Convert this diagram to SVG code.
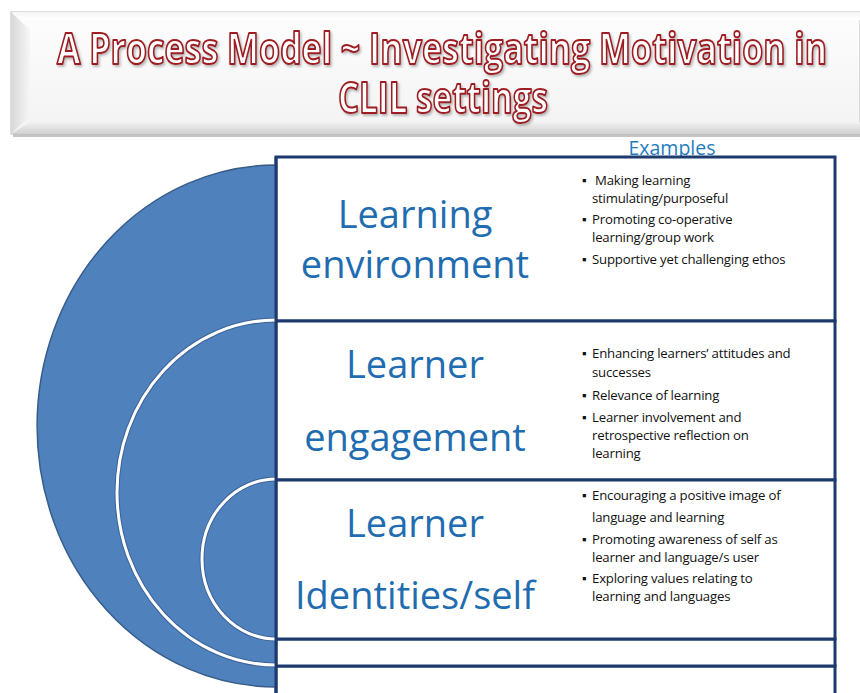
<svg xmlns="http://www.w3.org/2000/svg" width="860" height="693" viewBox="0 0 860 693">
<defs>
<linearGradient id="bevelTop" x1="0" y1="0" x2="0" y2="1">
<stop offset="0" stop-color="#f4f4f4"/><stop offset="1" stop-color="#ffffff"/>
</linearGradient>
<linearGradient id="bevelLeft" x1="0" y1="0" x2="1" y2="0">
<stop offset="0" stop-color="#d8d8d8"/><stop offset="1" stop-color="#f6f6f6"/>
</linearGradient>
<linearGradient id="bevelBottom" x1="0" y1="0" x2="0" y2="1">
<stop offset="0" stop-color="#f2f2f2"/><stop offset="1" stop-color="#d0d0d0"/>
</linearGradient>
<linearGradient id="face" x1="0" y1="0" x2="0" y2="1">
<stop offset="0" stop-color="#fdfdfd"/><stop offset="1" stop-color="#f3f3f3"/>
</linearGradient>
<filter id="tshadow" x="-5%" y="-30%" width="110%" height="160%">
<feDropShadow dx="1.5" dy="2" stdDeviation="1" flood-color="#777777" flood-opacity="0.5"/>
</filter>
</defs>
<style>
.title{font-family:"Open Sans","Noto Sans",sans-serif;font-weight:bold;font-size:43px;fill:#ffffff;stroke:#9e1b20;stroke-width:2px;stroke-linejoin:round;filter:url(#tshadow)}
.label{font-family:"Open Sans","Noto Sans",sans-serif;font-size:38px;fill:#1f6db0}
.ex{font-family:"Open Sans","Noto Sans",sans-serif;font-size:19.5px;fill:#1f7cc0}
.item{font-family:"Open Sans","Noto Sans",sans-serif;font-size:13.2px;fill:#111111;letter-spacing:-0.2px}
.frame{fill:#ffffff;stroke:#1d3a6e;stroke-width:3}
.ring{fill:none;stroke:#ffffff;stroke-width:3}
.ringedge{fill:none;stroke:#3a6299;stroke-width:5}
</style>

<g id="title">
<rect x="13" y="16" width="847" height="121" fill="#c4c4c4"/>
<rect x="11" y="12" width="849" height="122" fill="url(#face)" stroke="#bdbdbd" stroke-width="1"/>
<polygon points="11,12 860,12 860,20 30,20" fill="url(#bevelTop)"/>
<polygon points="11,12 30,30 30,116 11,134" fill="url(#bevelLeft)"/>
<polygon points="11,134 30,122 860,122 860,134" fill="url(#bevelBottom)"/>
<text class="title" x="442" y="64" text-anchor="middle" textLength="770" lengthAdjust="spacingAndGlyphs">A Process Model ~ Investigating Motivation in</text>
<text class="title" x="443" y="113" text-anchor="middle" textLength="210" lengthAdjust="spacingAndGlyphs">CLIL settings</text>
</g>

<g id="examples-heading">
<text class="ex" x="672" y="155" text-anchor="middle">Examples</text>
</g>

<g id="box-bottom">
<rect class="frame" x="276" y="666" width="559" height="40"/>
</g>
<g id="box-gap">
<rect class="frame" x="276" y="639" width="559" height="27"/>
</g>

<g id="box-environment">
<rect class="frame" x="276" y="157" width="559" height="164"/>
<text class="label" x="415" y="228" text-anchor="middle">Learning</text>
<text class="label" x="415" y="278" text-anchor="middle">environment</text>
<text class="item" x="582" y="185">▪ <tspan x="595">Making learning</tspan></text>
<text class="item" x="592" y="203">stimulating/purposeful</text>
<text class="item" x="582" y="224">▪ <tspan x="592">Promoting  co-operative</tspan></text>
<text class="item" x="592" y="242">learning/group work</text>
<text class="item" x="582" y="264">▪ <tspan x="592">Supportive yet challenging ethos</tspan></text>
</g>

<g id="box-engagement">
<rect class="frame" x="276" y="321" width="559" height="159"/>
<text class="label" x="415" y="378" text-anchor="middle">Learner</text>
<text class="label" x="415" y="451" text-anchor="middle">engagement</text>
<text class="item" x="582" y="358">▪ <tspan x="592">Enhancing learners’ attitudes and</tspan></text>
<text class="item" x="592" y="377">successes</text>
<text class="item" x="582" y="400">▪ <tspan x="592">Relevance of learning</tspan></text>
<text class="item" x="582" y="422">▪ <tspan x="592">Learner involvement and</tspan></text>
<text class="item" x="592" y="440">retrospective reflection on</text>
<text class="item" x="592" y="458">learning</text>
</g>

<g id="box-identities">
<rect class="frame" x="276" y="480" width="559" height="159"/>
<text class="label" x="415" y="537" text-anchor="middle">Learner</text>
<text class="label" x="415" y="609" text-anchor="middle">Identities/self</text>
<text class="item" x="582" y="500">▪ <tspan x="592">Encouraging a positive image of</tspan></text>
<text class="item" x="592" y="522">language and learning</text>
<text class="item" x="582" y="544">▪ <tspan x="592">Promoting awareness of self as</tspan></text>
<text class="item" x="592" y="562">learner and language/s user</text>
<text class="item" x="582" y="583">▪ <tspan x="592">Exploring values relating to</tspan></text>
<text class="item" x="592" y="601">learning and languages</text>
</g>

<g id="semicircle">
<path d="M276,165 A239,261 0 0 0 276,687 Z" fill="#4f81bd" stroke="#385d8a" stroke-width="1.5"/>
<path class="ringedge" d="M276,320 A159,172.5 0 0 0 276,665"/>
<path class="ring" d="M276,320 A159,172.5 0 0 0 276,665"/>
<path class="ringedge" d="M276,479 A74,80 0 0 0 276,639"/>
<path class="ring" d="M276,479 A74,80 0 0 0 276,639"/>
<line x1="276" y1="157" x2="276" y2="693" stroke="#1d3a6e" stroke-width="3"/>
</g>
</svg>
